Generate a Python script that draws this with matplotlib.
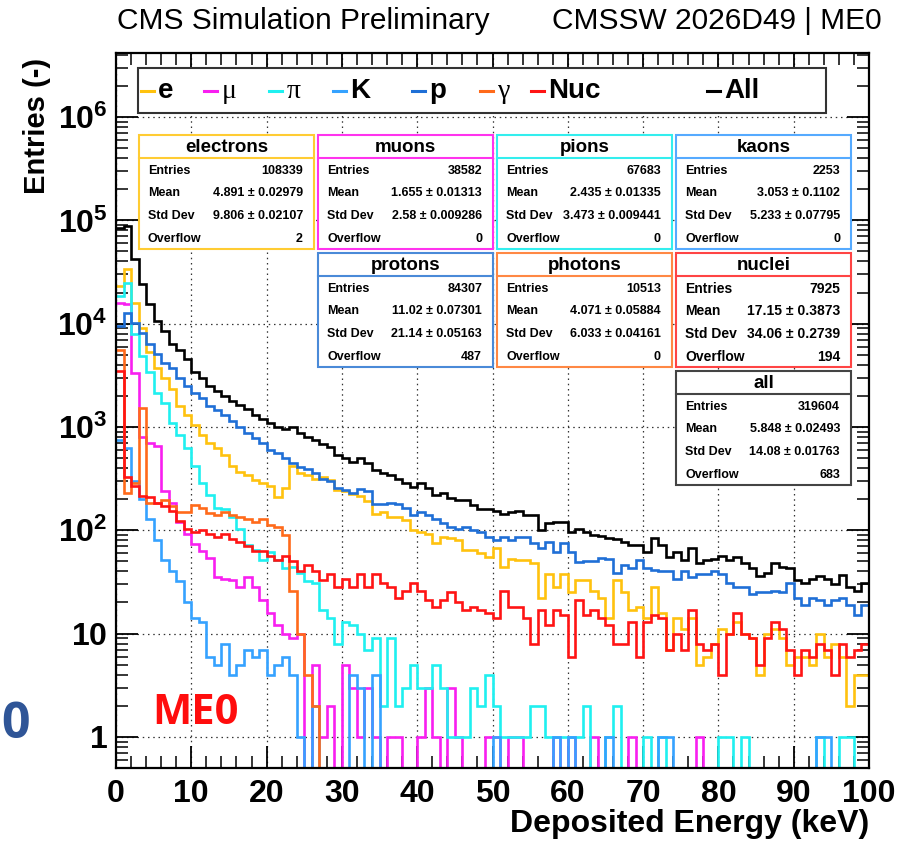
import numpy as np
import matplotlib
matplotlib.use("Agg")
import matplotlib.pyplot as plt
from matplotlib.patches import Rectangle
from matplotlib.lines import Line2D
from matplotlib.ticker import MultipleLocator, LogLocator, NullFormatter

plt.rcParams['font.family'] = ['Liberation Sans', 'DejaVu Sans']
plt.rcParams['mathtext.fontset'] = 'custom'
plt.rcParams['mathtext.rm'] = 'Liberation Sans'
plt.rcParams['mathtext.bf'] = 'Liberation Sans:bold'

W, H = 899, 843

# 1 keV bins, 0-100 keV
edges = np.arange(0, 101, 1)

electrons = [23000, 34000, 16000, 9000, 5300, 3700, 2950, 2350, 1600, 1300,
             1040, 830, 700, 620, 530, 420, 370, 345, 305, 290,
             270, 210, 255, 415, 360, 340, 315, 325, 305, 245,
             240, 225, 215, 190, 145, 150, 135, 135, 125, 100,
             96, 92, 75, 86, 84, 80, 64, 64, 60, 55,
             67, 44, 53, 51, 51, 48, 22, 38, 28, 38,
             25, 33, 33, 26, 22, 14, 33, 25, 17, 18,
             14, 28, 16, 7, 14, 11, 14, 5, 6, 8,
             11, 10, 13, 10, 9, 4, 10, 11, 9, 5,
             6, 6, 5, 10, 6, 8, 6, 2, 4, 4]

muons = [16000, 15500, 3300, 800, 700, 650, 240, 185, 120, 92,
         73, 63, 54, 35, 34, 33, 28, 35, 28, 21,
         16, 12, 10, 9, 10, 0, 5, 1, 2, 0,
         5, 3, 1, 3, 1, 0, 1, 1, 0, 0,
         1, 3, 1, 0, 3, 1, 0, 0, 0, 1,
         1, 0, 1, 1, 0, 0, 0, 0, 1, 0,
         1, 0, 0, 1, 0, 0, 0, 0, 1, 0,
         0, 0, 0, 0, 0, 0, 0, 1, 0, 0,
         0, 0, 0, 0, 0, 0, 0, 0, 0, 0,
         0, 0, 0, 0, 0, 0, 0, 0, 0, 0]

pions = [18600, 25000, 8000, 4900, 3400, 2150, 1700, 1100, 830, 620,
         420, 285, 220, 165, 160, 135, 104, 72, 65, 52,
         62, 52, 43, 44, 39, 32, 31, 17, 14, 8,
         13, 12, 10, 7, 9, 2, 9, 2, 3, 5,
         3, 3, 5, 3, 1, 1, 1, 3, 2, 4,
         2, 1, 1, 1, 1, 2, 2, 1, 1, 1,
         1, 1, 2, 0, 0, 1, 2, 0, 0, 0,
         1, 0, 1, 0, 0, 0, 0, 0, 0, 0,
         1, 1, 0, 1, 0, 0, 0, 0, 0, 0,
         0, 0, 0, 1, 0, 0, 1, 1, 0, 0]

kaons = [750, 620, 300, 200, 130, 80, 52, 40, 32, 20,
         14, 13, 6, 5, 8, 4, 5, 7, 6, 7,
         4, 5, 6, 4, 1, 0, 2, 0, 0, 0,
         0, 4, 3, 0, 4, 0, 0, 0, 0, 0,
         0, 0, 0, 0, 0, 0, 0, 0, 0, 0,
         1, 0, 0, 0, 0, 0, 0, 0, 1, 0,
         1, 0, 0, 0, 0, 1, 0, 0, 0, 0,
         0, 0, 1, 1, 0, 0, 0, 0, 0, 0,
         0, 0, 0, 0, 0, 0, 0, 0, 0, 0,
         0, 0, 0, 1, 1, 0, 0, 0, 0, 0]

protons = [9600, 12800, 10200, 8200, 6400, 5100, 4200, 3700, 2950, 2500,
           2150, 1900, 1600, 1450, 1300, 1150, 1000, 880, 780, 700,
           600, 560, 500, 445, 410, 390, 355, 315, 300, 258,
           245, 230, 250, 242, 180, 180, 185, 180, 165, 140,
           150, 140, 130, 117, 107, 104, 107, 100, 96, 86,
           80, 86, 80, 86, 86, 75, 68, 77, 62, 75,
           62, 49, 50, 50, 54, 53, 39, 46, 43, 51,
           43, 41, 40, 40, 34, 40, 35, 38, 38, 40,
           38, 31, 28, 28, 24, 25, 25, 26, 25, 31,
           22, 19, 22, 21, 19, 21, 22, 19, 15, 19]

photons = [5500, 230, 285, 1530, 185, 182, 195, 170, 152, 150,
           175, 165, 148, 140, 150, 140, 135, 128, 120, 128,
           112, 107, 90, 26, 10, 4, 2, 0, 0, 0,
           0, 0, 0, 0, 0, 0, 0, 0, 0, 0,
           0, 0, 0, 0, 0, 0, 0, 0, 0, 0,
           0, 0, 0, 0, 0, 0, 0, 0, 0, 0,
           0, 0, 0, 0, 0, 0, 0, 0, 0, 0,
           0, 0, 0, 0, 0, 0, 0, 0, 0, 0,
           0, 0, 0, 0, 0, 0, 0, 0, 0, 0,
           0, 0, 0, 0, 0, 0, 0, 0, 0, 0]

nuclei = [3500, 325, 270, 215, 210, 185, 170, 155, 122, 104,
          96, 100, 92, 86, 92, 82, 77, 70, 63, 63,
          56, 51, 56, 50, 40, 46, 40, 33, 38, 28,
          34, 28, 38, 28, 38, 31, 28, 22, 26, 31,
          26, 21, 18, 21, 25, 20, 17, 18, 17, 16,
          14, 26, 18, 18, 14, 8, 17, 12, 17, 15,
          6, 21, 15, 17, 14, 12, 8, 8, 13, 6,
          13, 15, 14, 7, 10, 7, 17, 8, 7, 8,
          4, 10, 16, 10, 9, 5, 9, 13, 11, 7,
          4, 7, 6, 8, 7, 4, 8, 6, 7, 8]

all_particles = [85000, 88000, 42500, 24300, 15600, 10700, 8500, 6400, 5500, 4600,
                 3400, 2950, 2500, 2240, 2000, 1800, 1650, 1500, 1300, 1200,
                 1100, 1000, 950, 1000, 880, 800, 740, 690, 640, 530,
                 505, 455, 500, 450, 380, 355, 340, 315, 285, 265,
                 285, 255, 220, 230, 205, 195, 195, 175, 162, 162,
                 155, 145, 152, 155, 140, 140, 100, 117, 120, 120,
                 96, 104, 96, 91, 88, 84, 82, 77, 72, 72,
                 62, 84, 72, 55, 62, 51, 68, 48, 51, 53,
                 56, 51, 55, 48, 43, 36, 39, 48, 44, 43,
                 33, 31, 34, 36, 34, 30, 37, 28, 26, 31]

series = [electrons, muons, pions, kaons, protons, photons, nuclei, all_particles]
colors = ['#ffc20e', '#f81ff0', '#1ff0f0', '#35a2ff', '#1f6fd6', '#ff6a1a', '#ff1414', '#000000']
legend_labels = ['e', 'μ', 'π', 'K', 'p', 'γ', 'Nuc', 'All']
greek = ['μ', 'π', 'γ']

xtick_vals = list(range(0, 101, 10))
xtick_labels = [str(v) for v in xtick_vals]
ytick_vals = [1, 10, 1e2, 1e3, 1e4, 1e5, 1e6]
ytick_labels = [r'$\mathbf{1}$', r'$\mathbf{10}$', r'$\mathbf{10^{2}}$', r'$\mathbf{10^{3}}$',
                r'$\mathbf{10^{4}}$', r'$\mathbf{10^{5}}$', r'$\mathbf{10^{6}}$']

# stat boxes
stat_titles = ['electrons', 'muons', 'pions', 'kaons', 'protons', 'photons', 'nuclei', 'all']
stat_entries = ['108339', '38582', '67683', '2253', '84307', '10513', '7925', '319604']
stat_means = ['4.891 ± 0.02979', '1.655 ± 0.01313', '2.435 ± 0.01335', '3.053 ± 0.1102',
              '11.02 ± 0.07301', '4.071 ± 0.05884', '17.15 ± 0.3873', '5.848 ± 0.02493']
stat_stds = ['9.806 ± 0.02107', '2.58 ± 0.009286', '3.473 ± 0.009441', '5.233 ± 0.07795',
             '21.14 ± 0.05163', '6.033 ± 0.04161', '34.06 ± 0.2739', '14.08 ± 0.01763']
stat_overflows = ['2', '0', '0', '0', '487', '0', '194', '683']
box_colors = ['#ffcc33', '#ff33ee', '#33eeee', '#55aaff', '#4a8ad8', '#ff8844', '#ff4444', '#444444']
box_corners = [(139, 135), (318, 135), (497, 135), (676, 135),
               (318, 253), (497, 253), (676, 253), (676, 371)]


def fx(x):
    return x / W


def fy(y):
    return 1 - y / H


fig = plt.figure(figsize=(W / 100, H / 100), dpi=100)
ax = fig.add_axes([fx(116), fy(768), (869 - 116) / W, (768 - 53) / H])

for vals, col in zip(series, colors):
    v = np.asarray(vals, dtype=float)
    v = np.where(v > 0, v, 1e-2)  # empty bins drop to the frame bottom
    ax.stairs(v, edges, baseline=None, color=col, lw=1.9)

ax.set_yscale('log')
ax.set_xlim(0, 100)
ax.set_ylim(0.5, 4.17e6)

ax.set_xticks(xtick_vals)
ax.set_xticklabels(xtick_labels, fontweight='bold')
ax.xaxis.set_minor_locator(MultipleLocator(2))
ax.set_yticks(ytick_vals)
ax.set_yticklabels(ytick_labels)
ax.yaxis.set_minor_locator(LogLocator(base=10, subs=np.arange(2, 10), numticks=20))
ax.yaxis.set_minor_formatter(NullFormatter())

ax.tick_params(which='major', direction='in', length=15.5, width=1.3,
               top=True, right=True, labelsize=23)
ax.tick_params(which='minor', direction='in', length=8.5, width=1.1,
               top=True, right=True)
ax.tick_params(axis='x', which='major', pad=8)
ax.tick_params(axis='y', which='major', pad=6)
for s in ax.spines.values():
    s.set_linewidth(1.6)
ax.grid(True, which='major', linestyle=(0, (1.2, 3)), color='#333333', lw=0.9)
ax.set_axisbelow(True)

fig.text(fx(117), fy(21), 'CMS Simulation Preliminary', fontsize=21.5, ha='left', va='center')
fig.text(fx(882), fy(21), 'CMSSW 2026D49 | ME0', fontsize=21.5, ha='right', va='center')
fig.text(fx(37), fy(58), 'Entries (-)', fontsize=21, fontweight='bold',
         rotation=90, ha='center', va='top')
fig.text(fx(869), fy(824), 'Deposited Energy (keV)', fontsize=23, fontweight='bold',
         ha='right', va='center')

# legend box
fig.add_artist(Rectangle((fx(138), fy(113)), (826 - 138) / W, (113 - 68) / H,
                         transform=fig.transFigure, facecolor='white',
                         edgecolor='#333333', lw=1.5))
leg_x = [141, 204, 269, 333, 412, 480, 531, 707]
for x0, lab, col in zip(leg_x, legend_labels, colors):
    fig.add_artist(Line2D([fx(x0), fx(x0 + 13)], [fy(91), fy(91)],
                          transform=fig.transFigure, color=col, lw=2.2))
    if lab in greek:
        fig.text(fx(x0 + 18), fy(91), lab, fontsize=20, ha='left', va='center',
                 family=['Liberation Serif', 'DejaVu Serif'])
    else:
        fig.text(fx(x0 + 17), fy(91), lab, fontsize=20, fontweight='bold',
                 ha='left', va='center')

# stat boxes
for i, (x0, y0) in enumerate(box_corners):
    bw, bh = 175, 114
    col = box_colors[i]
    fs = 10 if stat_titles[i] == 'nuclei' else 9
    fig.add_artist(Rectangle((fx(x0), fy(y0 + bh)), bw / W, bh / H,
                             transform=fig.transFigure, facecolor='white',
                             edgecolor=col, lw=1.5))
    fig.add_artist(Line2D([fx(x0), fx(x0 + bw)], [fy(y0 + 23), fy(y0 + 23)],
                          transform=fig.transFigure, color=col, lw=1.5))
    fig.text(fx(x0 + bw / 2), fy(y0 + 13), stat_titles[i], fontsize=13.5,
             fontweight='bold', ha='center', va='center')
    rows = [('Entries', stat_entries[i]), ('Mean', stat_means[i]),
            ('Std Dev', stat_stds[i]), ('Overflow', stat_overflows[i])]
    for (name, val), dy in zip(rows, [36, 58, 81, 104]):
        fig.text(fx(x0 + 9), fy(y0 + dy), name, fontsize=fs, fontweight='bold',
                 ha='left', va='center')
        fig.text(fx(x0 + bw - 11), fy(y0 + dy), val, fontsize=fs, fontweight='bold',
                 ha='right', va='center')

fig.text(fx(152), fy(714), 'ME0', color='#ff0d0d', fontsize=30, fontweight='bold',
         ha='left', va='center', family=['Open Sans', 'Liberation Sans'])
# slide lettering at the left edge
fig.text(fx(1), fy(738), '0', color='#2f5597', fontsize=36, fontweight='bold',
         ha='left', va='baseline', family=['Open Sans', 'Liberation Sans'])

fig.savefig('out.png', dpi=100, facecolor='white')
